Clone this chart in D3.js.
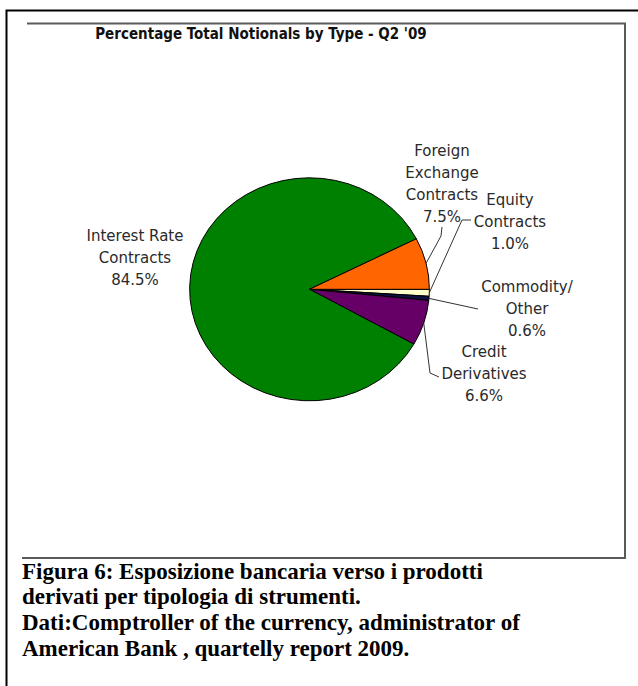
<!DOCTYPE html>
<html>
<head>
<meta charset="utf-8">
<script src="https://cdn.jsdelivr.net/npm/d3@7"></script>
<style>
  html, body { margin: 0; padding: 0; background: #fff; }
  svg { display: block; }
</style>
</head>
<body>
<script>
// Notional amounts by contract type, share of total (%), Q2 2009
const categories = [
  "Equity Contracts",
  "Commodity/Other",
  "Credit Derivatives",
  "Interest Rate Contracts",
  "Foreign Exchange Contracts"
];
const shares = [1.0, 0.6, 6.6, 84.5, 7.5];
const labelLines = [
  ["Equity", "Contracts"],
  ["Commodity/", "Other"],
  ["Credit", "Derivatives"],
  ["Interest Rate", "Contracts"],
  ["Foreign", "Exchange", "Contracts"]
];
const sliceColors = ["#ffffcc", "#101040", "#660066", "#008000", "#ff6600"];
const chartTitle = "Percentage Total Notionals by Type - Q2 '09";
const captionLines = [
  "Figura 6: Esposizione bancaria verso i prodotti",
  "derivati per tipologia di strumenti.",
  "Dati:Comptroller of the currency, administrator of",
  "American Bank , quartelly report 2009."
];

const W = 638, H = 686;
const svg = d3.select("body").append("svg").attr("width", W).attr("height", H);

// page frame (left and top rules)
svg.append("path")
  .attr("d", "M6.5,686 V10.5 H638")
  .attr("fill", "none").attr("stroke", "#000").attr("stroke-width", 2);

// chart box (top, right, bottom)
svg.append("path")
  .attr("d", "M27,23.5 H625 V558 H22")
  .attr("fill", "none").attr("stroke", "#5a5a5a").attr("stroke-width", 2);

// title
svg.append("text")
  .attr("x", 261).attr("y", 38.5)
  .attr("text-anchor", "middle")
  .attr("font-family", "'DejaVu Sans Condensed', 'DejaVu Sans', sans-serif")
  .attr("font-weight", "bold")
  .attr("font-size", 15)
  .attr("fill", "#111")
  .text(chartTitle);

// pie geometry: slightly wider than tall
const cx = 309.5, cy = 289.3, r = 111.5, sx = 1.075;

const pie = d3.pie().sort(null).value(d => d)
  .startAngle(Math.PI / 2).endAngle(Math.PI / 2 + 2 * Math.PI);
const arcs = pie(shares);
const arc = d3.arc().innerRadius(0).outerRadius(r);
const edge = d3.arc().innerRadius(r).outerRadius(r);

const pieG = svg.append("g")
  .attr("transform", `translate(${cx},${cy}) scale(${sx},1)`);
pieG.selectAll("path")
  .data(arcs)
  .join("path")
  .attr("d", arc)
  .attr("fill", (d, i) => sliceColors[i])
  .attr("stroke", "#000")
  .attr("stroke-width", 1)
  .attr("vector-effect", "non-scaling-stroke");

// point on the pie rim at the middle of a slice, in page coordinates
function rimPoint(i) {
  const [x, y] = edge.centroid(arcs[i]);
  return [cx + x * sx, cy + y];
}

// label placement (page coordinates of the text centre and first line)
const labelLayout = [
  { x: 510, y: 205, leader: p => [[471, 220], [462, 220], p] },
  { x: 527, y: 292, leader: p => [p, [478, 309]] },
  { x: 484, y: 357, leader: p => [p, [430, 373], [439, 377]] },
  { x: 135, y: 241, leader: null },
  { x: 442, y: 156, leader: p => [[442, 227], [441, 236], p] }
];
const lineGap = 22;

const labelFont = "'DejaVu Sans', Verdana, sans-serif";
const labels = svg.append("g")
  .attr("font-family", labelFont)
  .attr("font-size", 15)
  .attr("fill", "#2a2a2a")
  .attr("text-anchor", "middle");

arcs.forEach((a, i) => {
  const L = labelLayout[i];
  const lines = labelLines[i].concat([d3.format(".1f")(shares[i]) + "%"]);
  const t = labels.append("text").attr("x", L.x).attr("y", L.y);
  lines.forEach((s, k) => {
    t.append("tspan").attr("x", L.x).attr("y", L.y + k * lineGap).text(s);
  });
  if (L.leader) {
    svg.append("path")
      .attr("d", d3.line()(L.leader(rimPoint(i))))
      .attr("fill", "none")
      .attr("stroke", "#333")
      .attr("stroke-width", 1);
  }
});

// figure caption
const cap = svg.append("g")
  .attr("font-family", "'Liberation Serif', 'Times New Roman', serif")
  .attr("font-weight", "bold")
  .attr("font-size", 23)
  .attr("fill", "#000");
captionLines.forEach((s, k) => {
  cap.append("text").attr("x", 22).attr("y", 578.5 + k * 25.8).text(s);
});
</script>
</body>
</html>
